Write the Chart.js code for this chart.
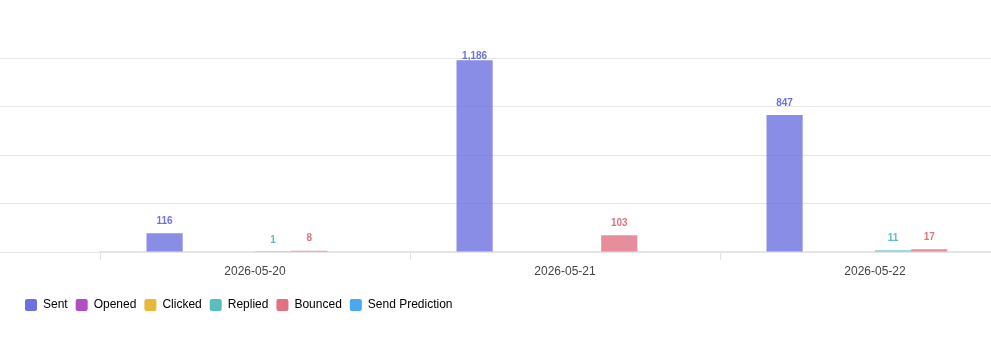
<!DOCTYPE html>
<html><head><meta charset="utf-8">
<script src="https://cdn.jsdelivr.net/npm/chart.js@4"></script>
<style>
html,body{margin:0;padding:0;background:#fff;overflow:hidden}
#wrap{position:relative;width:1040px;height:338px}
canvas{display:block}
</style></head><body>
<div id="wrap"><canvas id="c" width="1040" height="338"></canvas></div>
<script>
const categories = ['2026-05-20', '2026-05-21', '2026-05-22'];
const seriesNames = ['Sent', 'Opened', 'Clicked', 'Replied', 'Bounced', 'Send Prediction'];
const sent = [116, 1186, 847];
const opened = [0, 0, 0];
const clicked = [0, 0, 0];
const replied = [1, 0, 11];
const bounced = [8, 103, 17];
const sendPrediction = [0, 0, 0];
const yTicks = [0, 300, 600, 900, 1200];
const seriesColors = ['#6c71e0', '#b04fc2', '#e8b83a', '#5bbebe', '#e07282', '#48a8f0'];

const seriesValues = [sent, opened, clicked, replied, bounced, sendPrediction];
function alpha(hex, a) {
  const n = parseInt(hex.slice(1), 16);
  return `rgba(${(n >> 16) & 255},${(n >> 8) & 255},${n & 255},${a})`;
}
const FONT = '"Liberation Sans", Arial, Helvetica, sans-serif';

const valueLabels = {
  id: 'valueLabels',
  afterDatasetsDraw(chart) {
    const ctx = chart.ctx;
    const top = chart.chartArea.top;
    chart.data.datasets.forEach((ds, i) => {
      const meta = chart.getDatasetMeta(i);
      if (!chart.isDatasetVisible(i)) return;
      meta.data.forEach((bar, j) => {
        const v = ds.data[j];
        if (!v) return;
        ctx.save();
        ctx.font = 'bold 10px ' + FONT;
        ctx.fillStyle = seriesColors[i];
        ctx.textAlign = 'center';
        ctx.textBaseline = 'middle';
        const y = Math.max(bar.y - 12, top - 2);
        ctx.fillText(v.toLocaleString('en-US'), bar.x, y);
        ctx.restore();
      });
    });
  }
};
const legendShift = {
  id: 'legendShift',
  afterLayout(chart) {
    if (chart.legend) { chart.legend.left += 17; }
  }
};

new Chart(document.getElementById('c'), {
  type: 'bar',
  data: {
    labels: categories,
    datasets: seriesNames.map((name, i) => ({
      label: name,
      data: seriesValues[i],
      backgroundColor: alpha(seriesColors[i], 0.8),
      borderWidth: 0,
      categoryPercentage: 0.7,
      barPercentage: 1.0
    }))
  },
  options: {
    responsive: false,
    animation: false,
    layout: { padding: { top: 58, right: 10, bottom: 17, left: 0 } },
    plugins: {
      tooltip: { enabled: false },
      legend: {
        position: 'bottom',
        align: 'start',
        labels: {
          boxWidth: 12,
          boxHeight: 12,
          padding: 8,
          color: '#444',
          font: { size: 12, family: FONT },
          useBorderRadius: true,
          borderRadius: 2,
          generateLabels(chart) {
            return chart.data.datasets.map((ds, i) => ({
              text: ds.label,
              fillStyle: seriesColors[i],
              strokeStyle: seriesColors[i],
              lineWidth: 0,
              borderRadius: 2,
              hidden: !chart.isDatasetVisible(i),
              datasetIndex: i
            }));
          }
        }
      }
    },
    scales: {
      x: {
        offset: true,
        grid: { display: true, drawOnChartArea: false, drawTicks: true, tickLength: 8, color: '#e2e2e2' },
        border: { display: true, color: '#e4e4e4', width: 2 },
        ticks: { color: '#444', font: { size: 12, family: FONT }, padding: 4 },
        afterFit(s) { s.height = 39; }
      },
      y: {
        min: 0,
        max: yTicks[yTicks.length - 1],
        afterBuildTicks(s) { s.ticks = yTicks.map(v => ({ value: v })); },
        ticks: { display: false },
        grid: { color: '#e6e6e6', tickLength: 100, drawTicks: true },
        border: { display: false },
        afterFit(s) { s.width = 100; }
      }
    }
  },
  plugins: [valueLabels, legendShift]
});
</script>
</body></html>
